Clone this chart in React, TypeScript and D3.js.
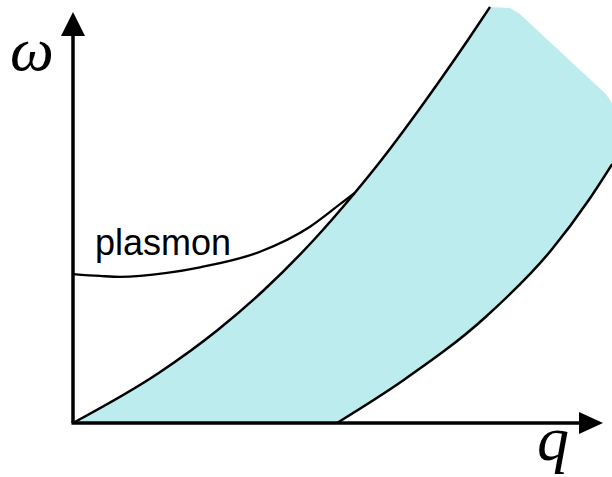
import React from "react";
import * as d3 from "d3";

// Schematic plasmon dispersion: frequency ω against wavevector q
// (q in arbitrary units 0..10, ω in arbitrary units 0..8)

// Upper edge of the particle–hole continuum
const continuumUpper: [number, number][] = [
  [0, 0],
  [1.617, 0.973],
  [2.73, 1.81],
  [3.604, 2.589],
  [4.542, 3.562],
  [5.315, 4.477],
  [5.819, 5.119],
  [6.387, 5.898],
  [6.928, 6.676],
  [7.451, 7.455],
  [7.868, 8.097],
];

// Lower edge of the particle–hole continuum
const continuumLower: [number, number][] = [
  [4.981, 0],
  [6.24, 0.837],
  [7.785, 2.064],
  [9.025, 3.367],
  [9.732, 4.341],
  [10.174, 5.041],
];

// Cut-off corner of the shaded continuum at the top right
const continuumCap: [number, number][] = [
  [8.25, 8.08],
  [8.43, 7.96],
  [10.06, 6.4],
  [10.174, 6.21],
];

// Plasmon branch, running into the continuum where it meets the upper edge
const plasmon: [number, number][] = [
  [0, 2.9],
  [0.509, 2.863],
  [0.887, 2.844],
  [1.774, 2.922],
  [2.396, 3.031],
  [3.528, 3.334],
  [4.472, 3.821],
  [5.038, 4.259],
  [5.315, 4.477],
];

const W = 612;
const H = 477;

const x = d3.scaleLinear().domain([0, 10]).range([73, 603]);
const y = d3.scaleLinear().domain([0, 8]).range([423, 12]);

const line = d3
  .line<[number, number]>()
  .x((d) => x(d[0]))
  .y((d) => y(d[1]))
  .curve(d3.curveMonotoneX);

const upperPath = line(continuumUpper) ?? "";
const lowerPath = line(continuumLower) ?? "";
const plasmonPath = line(plasmon) ?? "";

const bandPath =
  upperPath +
  continuumCap.map((d) => `L${x(d[0])},${y(d[1])}`).join("") +
  (line([...continuumLower].reverse()) ?? "").replace(/^M/, "L") +
  "Z";

export default function App() {
  const x0 = x(0);
  const y0 = y(0);
  const yTop = y(8);
  const xEnd = x(10);
  return (
    <svg
      width={W}
      height={H}
      viewBox={`0 0 ${W} ${H}`}
      style={{ position: "absolute", left: 0, top: 0, background: "#fff" }}
    >
      <path d={bandPath} fill="#bdecee" stroke="none" />
      <path d={upperPath} fill="none" stroke="#000" strokeWidth={2.5} />
      <path d={lowerPath} fill="none" stroke="#000" strokeWidth={2.5} />
      <path d={plasmonPath} fill="none" stroke="#000" strokeWidth={2.3} />

      {/* axes */}
      <line x1={x0} y1={y0} x2={x0} y2={yTop + 22} stroke="#000" strokeWidth={3.5} />
      <line x1={x0 - 1.5} y1={y0} x2={xEnd - 22} y2={y0} stroke="#000" strokeWidth={3.5} />
      <path
        d={`M${x0},${yTop}L${x0 - 12},${yTop + 24}L${x0 + 12},${yTop + 24}Z`}
        fill="#000"
      />
      <path
        d={`M${xEnd},${y0}L${xEnd - 24},${y0 - 11}L${xEnd - 24},${y0 + 11}Z`}
        fill="#000"
      />

      <text
        x={10}
        y={70}
        fontFamily="'Liberation Serif', 'DejaVu Serif', serif"
        fontStyle="italic"
        fontSize={62}
        fill="#000"
      >
        ω
      </text>
      <text
        x={537}
        y={460}
        fontFamily="'Liberation Serif', 'DejaVu Serif', serif"
        fontStyle="italic"
        fontSize={64}
        fill="#000"
      >
        q
      </text>
      <text
        x={95}
        y={255}
        fontFamily="'Liberation Sans', Arial, sans-serif"
        fontSize={36}
        fill="#000"
      >
        plasmon
      </text>
    </svg>
  );
}
